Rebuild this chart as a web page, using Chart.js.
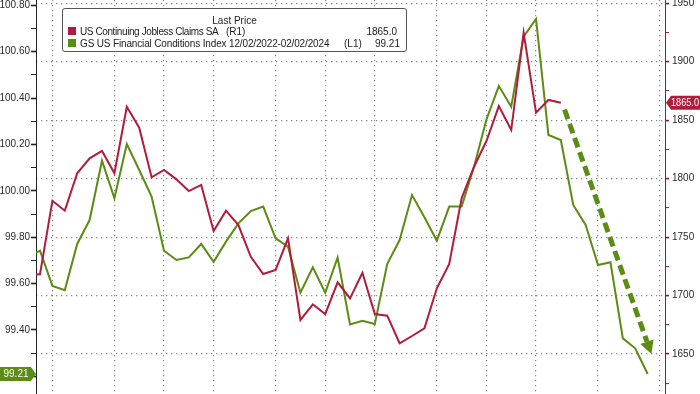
<!DOCTYPE html>
<html><head><meta charset="utf-8">
<script src="https://cdn.jsdelivr.net/npm/chart.js@4.4.1/dist/chart.umd.min.js"></script>
<style>
html,body{margin:0;padding:0;background:#fff;}
#wrap{position:relative;width:700px;height:394px;overflow:hidden;background:#fff;}
canvas{position:absolute;left:0;top:0;}
#legend{position:absolute;left:62px;top:8px;width:345px;height:44px;border:1px solid #555;border-radius:3px;background:#fff;font-family:"Liberation Sans",Arial,sans-serif;font-size:10px;color:#222;box-sizing:border-box;}
.t{position:absolute;white-space:nowrap;line-height:11px;}
.sq{position:absolute;width:8px;height:8px;}
</style></head>
<body><div id="wrap"><canvas id="c" width="700" height="394"></canvas>
<div id="legend">
 <div class="t" style="left:0;width:343px;top:6px;text-align:center;">Last Price</div>
 <div class="sq" style="left:5px;top:18px;background:#b01c3c;"></div>
 <div class="t" style="left:17px;top:17px;letter-spacing:-0.4px;">US Continuing Jobless Claims SA</div>
 <div class="t" style="left:163px;top:17px;">(R1)</div>
 <div class="t" style="right:9px;top:17px;">1865.0</div>
 <div class="sq" style="left:5px;top:30px;background:#5b8c14;"></div>
 <div class="t" style="left:17px;top:29px;letter-spacing:-0.15px;">GS US Financial Conditions Index 12/02/2022-02/02/2024</div>
 <div class="t" style="left:281px;top:29px;">(L1)</div>
 <div class="t" style="right:6px;top:29px;">99.21</div>
</div></div>
<script>
// weekly observations (index = week number)
const claims = [1716.7,1718.4,1781.1,1772.6,1804.6,1817.4,1823.7,1804.6,1861.5,1843.6,
  1801.2,1807.4,1799.4,1789.4,1794.6,1755.2,1772.6,1760.3,1733.2,1718.4,
  1721.9,1749.0,1679.1,1692.5,1684.2,1711.3,1697.6,1719.5,1684.2,1682.8,
  1659.2,1665.4,1672.0,1706.2,1727.0,1783.2,1810.2,1832.2,1862.1,1841.6,
  1924.9,1856.4,1867.3,1865.0];
const fci = [99.716,99.742,99.590,99.572,99.771,99.874,100.130,99.968,100.202,100.090,
  99.975,99.742,99.702,99.713,99.771,99.694,99.781,99.860,99.913,99.932,
  99.795,99.759,99.561,99.670,99.561,99.712,99.424,99.440,99.426,99.684,
  99.788,99.982,99.886,99.785,99.932,99.932,100.104,100.308,100.452,100.363,
  100.665,100.741,100.241,100.219,99.939,99.853,99.680,99.692,99.364,99.321,
  99.21];
const monthGrid = [2,7,11,15,20,24,28,33,37,41,46,51];
const leftTicks = [99.2,99.3,99.4,99.5,99.6,99.7,99.8,99.9,100.0,100.1,100.2,100.3,100.4,100.5,100.6,100.7,100.8];
const rightTicks = [1625,1650,1675,1700,1725,1750,1775,1800,1825,1850,1875,1900,1925,1950];
const lastClaims = 1865.0, lastFci = 99.21;
const arrowStart = {x:43.3, y:1859};
const arrowEnd = {x:50.3, y:1650};

const RED = '#b01c3c', GREEN = '#5b8c14', MAROON = '#8e1b33';
const FONT = {family:'"Liberation Sans", Arial, sans-serif', size:10};

const overlay = {
  id:'overlay',
  afterDatasetsDraw(chart){
    const c = chart.ctx, x = chart.scales.x, yR = chart.scales.yR;
    const x0 = x.getPixelForValue(arrowStart.x), y0 = yR.getPixelForValue(arrowStart.y);
    const x1 = x.getPixelForValue(arrowEnd.x), y1 = yR.getPixelForValue(arrowEnd.y);
    const ang = Math.atan2(y1-y0, x1-x0);
    const head = 13;
    const bx = x1 - head*Math.cos(ang), by = y1 - head*Math.sin(ang);
    c.save();
    c.strokeStyle = GREEN; c.lineWidth = 5; c.setLineDash([10,5]); c.lineCap='butt';
    c.beginPath(); c.moveTo(x0,y0); c.lineTo(bx,by); c.stroke();
    c.setLineDash([]);
    c.fillStyle = GREEN;
    const w = 7;
    c.beginPath();
    c.moveTo(x1,y1);
    c.lineTo(bx + w*Math.sin(ang), by - w*Math.cos(ang));
    c.lineTo(bx - w*Math.sin(ang), by + w*Math.cos(ang));
    c.closePath(); c.fill();
    c.restore();
  },
  afterDraw(chart){
    const c = chart.ctx, yL = chart.scales.yL, yR = chart.scales.yR;
    const ca = chart.chartArea;
    c.save();
    c.font = '10px "Liberation Sans", Arial, sans-serif';
    c.textBaseline = 'middle';
    // green tag on left axis
    let ty = yL.getPixelForValue(lastFci);
    c.fillStyle = GREEN;
    c.beginPath();
    c.moveTo(0, ty-7); c.lineTo(ca.left-5, ty-7); c.lineTo(ca.left, ty); c.lineTo(ca.left-5, ty+7); c.lineTo(0, ty+7); c.closePath(); c.fill();
    c.fillStyle = '#fff'; c.textAlign = 'center';
    c.fillText(lastFci.toFixed(2), 16, ty+0.5);
    // red tag on right axis
    ty = yR.getPixelForValue(lastClaims);
    c.fillStyle = RED;
    c.beginPath();
    c.moveTo(ca.right+1, ty); c.lineTo(ca.right+6, ty-7); c.lineTo(700, ty-7); c.lineTo(700, ty+7); c.lineTo(ca.right+6, ty+7); c.closePath(); c.fill();
    c.fillStyle = '#fff'; c.textAlign = 'left';
    c.fillText(lastClaims.toFixed(1), ca.right+6, ty+0.5, 28);
    c.restore();
  }
};

new Chart(document.getElementById('c'), {
  type:'line',
  data:{datasets:[
    {label:'US Continuing Jobless Claims SA', data:claims.map((v,i)=>({x:i,y:v})), yAxisID:'yR',
     borderColor:RED, borderWidth:2, pointRadius:0, tension:0},
    {label:'GS US Financial Conditions Index', data:fci.map((v,i)=>({x:i,y:v})), yAxisID:'yL',
     borderColor:GREEN, borderWidth:2, pointRadius:0, tension:0}
  ]},
  options:{
    responsive:false, animation:false, devicePixelRatio:1,
    layout:{padding:0},
    plugins:{legend:{display:false}, tooltip:{enabled:false}},
    scales:{
      x:{type:'linear', min:0.677, max:51.40,
         afterBuildTicks:s=>{s.ticks = monthGrid.map(v=>({value:v}));},
         ticks:{display:false},
         grid:{color:'#8a8a8a', drawTicks:false, lineWidth:1.2},
         border:{display:false, dash:[1.3,3.7]},
         afterFit:s=>{s.height=0;}},
      yL:{type:'linear', position:'left', min:99.124, max:100.823,
          afterBuildTicks:s=>{s.ticks = leftTicks.map(v=>({value:v}));},
          ticks:{font:FONT, color:'#2a2a2a', padding:1, autoSkip:false,
                 callback:v=>(Math.round(v*10)%2===0 ? v.toFixed(2) : '')},
          grid:{drawOnChartArea:false, drawTicks:true, tickLength:5, tickColor:'#222',
                tickWidth:c=>(Math.round(c.tick.value*10)%2===0 ? 1.6 : 1)},
          border:{color:'#222', width:1},
          afterFit:s=>{s.width=36; s.paddingTop=0; s.paddingBottom=0;}},
      yR:{type:'linear', position:'right', min:1615.8, max:1952.8,
          afterBuildTicks:s=>{s.ticks = rightTicks.map(v=>({value:v}));},
          ticks:{font:FONT, color:'#2a2a2a', padding:3, autoSkip:false,
                 callback:v=>(v%50===0 ? String(v) : '')},
          grid:{drawOnChartArea:true, drawTicks:true, tickLength:4, tickColor:MAROON,
                color:c=>(c.tick && c.tick.value%50===0 ? '#8a8a8a' : 'rgba(0,0,0,0)'),
                lineWidth:1.2,
                tickWidth:c=>(c.tick && c.tick.value%50===0 ? 1.6 : 1)},
          border:{color:MAROON, width:1, dash:[1.3,3.7]},
          afterFit:s=>{s.width=35; s.paddingTop=0; s.paddingBottom=0;}}
    }
  },
  plugins:[overlay]
});
</script>
</body></html>
